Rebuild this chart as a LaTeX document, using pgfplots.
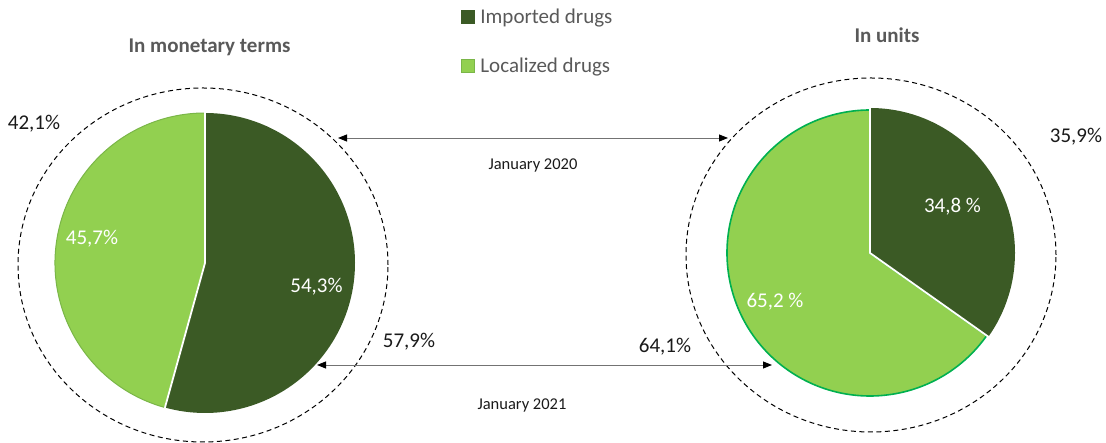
\documentclass[border=0pt]{standalone}
\usepackage{fontspec}
\setmainfont{Carlito}
\usepackage{pgfplots}
\usepackage{pgfplotstable}
\pgfplotsset{compat=1.18}
\usetikzlibrary{arrows.meta}
\definecolor{darkg}{HTML}{3B5A25}
\definecolor{lightg}{HTML}{92D050}
\definecolor{lborder}{HTML}{7AB648}
\definecolor{rborder}{HTML}{00B050}
\definecolor{titlegray}{HTML}{595959}
\definecolor{txt}{HTML}{1A1A1A}

\pgfplotstableread{
share value
Imported 54.3
Localized 45.7
}\monetary
\pgfplotstableread{
share value
Imported 34.8
Localized 65.2
}\units

\newcommand{\bigfont}{\fontsize{21}{25}\selectfont}
\newcommand{\smallfont}{\fontsize{16.5}{20}\selectfont}

\begin{document}
\begin{tikzpicture}
\pgfplotstablegetelem{0}{value}\of\monetary
\pgfmathsetmacro\angL{90-3.6*\pgfplotsretval}
\pgfplotstablegetelem{0}{value}\of\units
\pgfmathsetmacro\angR{90-3.6*\pgfplotsretval}
\begin{axis}[x=1pt,y=1pt, xmin=0,xmax=1106,ymin=0,ymax=443,
  hide axis, clip=false,
  legend image code/.code={\draw[#1] (0pt,-6.5pt) rectangle (13pt,6.5pt); \path (16pt,0pt);},
  legend style={at={(axis cs:461,437)}, anchor=north west, draw=none, fill=none,
    inner sep=0pt, outer sep=0pt, font=\bigfont, text=titlegray, row sep=27pt,
    nodes={inner sep=3pt}},
  legend cell align=left]
\addlegendimage{fill=darkg, draw=darkg}
\addlegendentry{Imported drugs}
\addlegendimage{fill=lightg, draw=lborder}
\addlegendentry{Localized drugs}

% left pie (monetary)
\fill[lightg, draw=lborder, line width=1pt] (axis cs:205,180) -- ++(\angL:150pt) arc[start angle=\angL, end angle=-270, radius=150pt] -- cycle;
\fill[darkg] (axis cs:205,180) -- ++(90:150pt) arc[start angle=90, end angle=\angL, radius=150pt] -- cycle;
\draw[white, line width=1.8pt] (axis cs:205,180) ++(90:151pt) -- (axis cs:205,180) -- ++(\angL:151pt);

% right pie (units)
\fill[lightg, draw=rborder, line width=1.6pt] (axis cs:870,190) -- ++(\angR:143pt) arc[start angle=\angR, end angle=-270, radius=143pt] -- cycle;
\fill[darkg] (axis cs:870,190) -- ++(90:145pt) arc[start angle=90, end angle=\angR, radius=145pt] -- cycle;
\draw[white, line width=1.8pt] (axis cs:870,190) ++(90:146pt) -- (axis cs:870,190) -- ++(\angR:146pt);

% dashed circles
\draw[black, line width=1pt, dash pattern=on 5pt off 3.5pt] (axis cs:203,178) ellipse[x radius=185pt, y radius=177pt];
\draw[black, line width=1pt, dash pattern=on 5pt off 3.5pt] (axis cs:871,188) ellipse[x radius=185pt, y radius=177pt];

% arrows
\draw[{Triangle[length=9pt,width=7pt,color=black]}-{Triangle[length=9pt,width=7pt,color=black]}, black!55, line width=0.9pt] (axis cs:338,305) -- (axis cs:728,305);
\draw[{Triangle[length=9pt,width=7pt,color=black]}-{Triangle[length=9pt,width=7pt,color=black]}, black!55, line width=0.9pt] (axis cs:317,78) -- (axis cs:772,78);

% titles
\node[font=\bigfont\bfseries, text=titlegray] at (axis cs:209.5,396) {In monetary terms};
\node[font=\bigfont\bfseries, text=titlegray] at (axis cs:887,408) {In units};

% labels
\node[font=\bigfont, text=txt] at (axis cs:34,319) {42,1\%};
\node[font=\bigfont, text=white] at (axis cs:92,204) {45,7\%};
\node[font=\bigfont, text=white] at (axis cs:316.5,156) {54,3\%};
\node[font=\bigfont, text=txt] at (axis cs:409,101) {57,9\%};
\node[font=\bigfont, text=txt] at (axis cs:665,96) {64,1\%};
\node[font=\bigfont, text=white] at (axis cs:952.5,236) {34,8 \%};
\node[font=\bigfont, text=white] at (axis cs:775,141) {65,2 \%};
\node[font=\bigfont, text=txt] at (axis cs:1076,306) {35,9\%};
\node[font=\smallfont, text=txt] at (axis cs:533,278) {January 2020};
\node[font=\smallfont, text=txt] at (axis cs:522,38) {January 2021};
\end{axis}
\pgfresetboundingbox
\useasboundingbox (0,0) rectangle (1106pt,443pt);
\end{tikzpicture}
\end{document}
